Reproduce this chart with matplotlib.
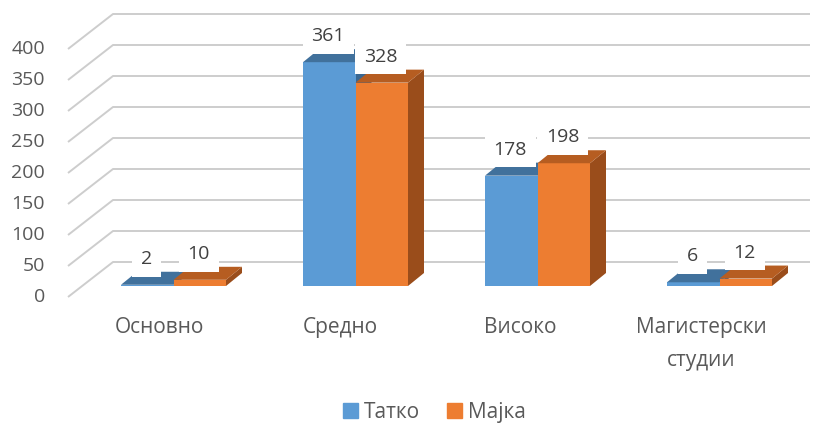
import matplotlib.pyplot as plt
from matplotlib.patches import Polygon, Patch

# ---- data ----
categories = ['Основно', 'Средно', 'Високо', 'Магистерски\nстудии']
tatko = [2, 361, 178, 6]
majka = [10, 328, 198, 12]
series_names = ['Татко', 'Мајка']
yticks = [0, 50, 100, 150, 200, 250, 300, 350, 400]

plt.rcParams['font.family'] = ['Open Sans', 'DejaVu Sans']
TXT = '#595959'

W, H = 831, 424
fig = plt.figure(figsize=(W / 100, H / 100), dpi=100)
ax = fig.add_axes([0, 0, 1, 1])
ax.axis('off')

# calibration: one category = 182 px, one value unit = 0.62 px
PX_X, PX_Y = 182.0, 0.62
X0, Y0 = 173.5, 286.0          # where (0, 0) of the bar front plane sits
ax.set_xlim(-X0 / PX_X, (W - X0) / PX_X)
ax.set_ylim((Y0 - H) / PX_Y, Y0 / PX_Y)


def dx(px):
    return px / PX_X


def dy(px):
    return px / PX_Y


# ---- back wall gridlines (pseudo 3D) ----
x_front = dx(68 - X0)
x_back = dx(113 - X0)
x_right = dx(810 - X0)
for v in yticks:
    yf = v + dy(-11)
    yb = v + dy(24)
    ax.plot([x_front, x_back, x_right], [yf, yb, yb], color='#CDCDCD', lw=1.4,
            zorder=1, solid_capstyle='butt')
    ax.text(dx(45 - X0), yf, str(v), ha='right', va='center', fontsize=14, color=TXT)

# ---- bars ----
w = dx(52.5)
ddx, ddy = dx(16), dy(13)
colors = {
    'Татко': ('#5B9BD5', '#41719C', '#3A6791'),
    'Мајка': ('#ED7D31', '#B65D21', '#9A4D1B'),
}


def bar3d(x0, v, cols, z):
    front, top, side = cols
    x1 = x0 + w
    ax.bar(x0, v, width=w, align='edge', color=front, lw=0, zorder=z + 1)
    ax.add_patch(Polygon([(x1, 0), (x1 + ddx, ddy), (x1 + ddx, v + ddy), (x1, v)],
                         closed=True, color=side, lw=0, zorder=z))
    ax.add_patch(Polygon([(x0, v), (x1, v), (x1 + ddx, v + ddy), (x0 + ddx, v + ddy)],
                         closed=True, color=top, lw=0, zorder=z + 1))


for i in range(len(categories)):
    bar3d(i - w, tatko[i], colors['Татко'], 2)
    bar3d(i, majka[i], colors['Мајка'], 4)
    for xc, v in [(i - w / 2, tatko[i]), (i + w / 2, majka[i])]:
        ax.text(xc - dx(1), v + dy(26), str(v), ha='center', va='center',
                fontsize=14, color='#404040', zorder=8,
                bbox=dict(boxstyle='square,pad=0.45', facecolor='white', edgecolor='none'))
    ax.text(i - dx(14) - i * dx(1.5), (Y0 - 317) / PX_Y, categories[i], ha='center',
            va='top', fontsize=15, color=TXT, linespacing=1.75)

# ---- legend ----
handles = [Patch(color=colors[n][0]) for n in series_names]
fig.legend(handles, series_names, loc='center', bbox_to_anchor=(0.523, 0.028),
           ncol=2, frameon=False, fontsize=15, handlelength=0.7, handleheight=0.7,
           handletextpad=0.3, columnspacing=1.3, labelcolor=TXT)

fig.savefig('out.png', dpi=100)
